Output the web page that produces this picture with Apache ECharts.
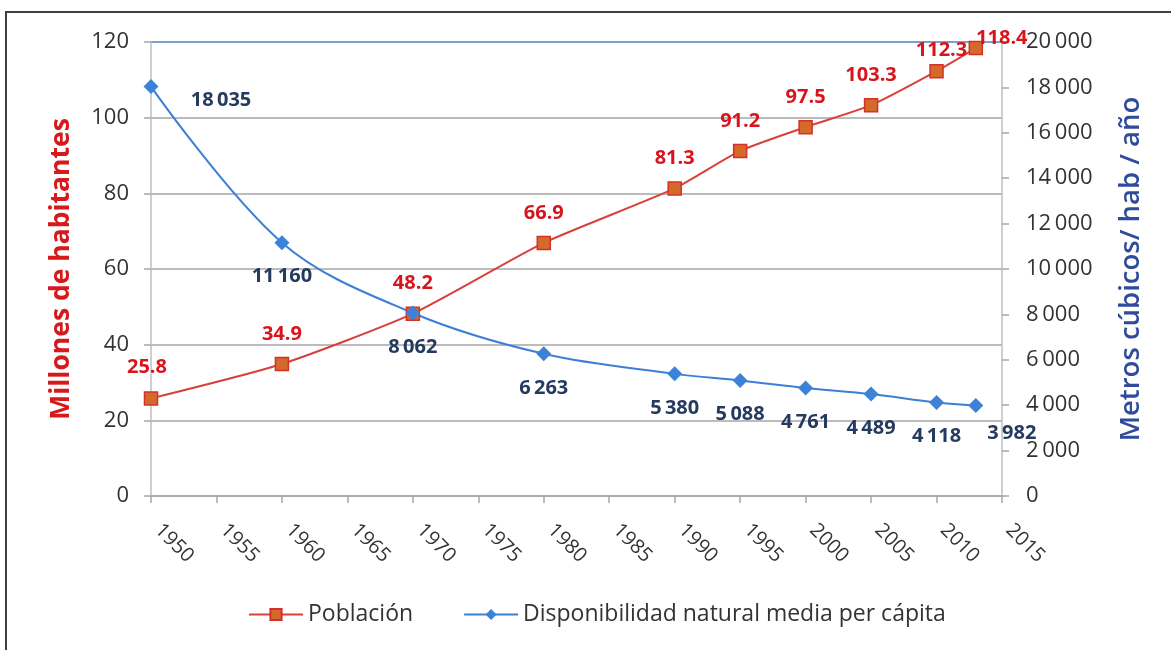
<!DOCTYPE html>
<html>
<head>
<meta charset="utf-8">
<script src="https://cdn.jsdelivr.net/npm/echarts@6/dist/echarts.min.js"></script>
<style>
  html, body { margin: 0; padding: 0; background: #fff; }
  #chart { width: 1171px; height: 650px; }
</style>
</head>
<body>
<div id="chart"></div>
<script>
// Población (millones) y disponibilidad natural media de agua per cápita
const years = [1950, 1960, 1970, 1980, 1990, 1995, 2000, 2005, 2010, 2013];
const poblacion = [25.8, 34.9, 48.2, 66.9, 81.3, 91.2, 97.5, 103.3, 112.3, 118.4];
const disponibilidad = [18035, 11160, 8062, 6263, 5380, 5088, 4761, 4489, 4118, 3982];
const leftTicks = [0, 20, 40, 60, 80, 100, 120];
const rightTicks = [0, 2000, 4000, 6000, 8000, 10000, 12000, 14000, 16000, 18000, 20000];

const FONT = '"Open Sans", Lato, sans-serif';
const sep = (v) => String(v).replace(/\B(?=(\d{3})+(?!\d))/g, '\u2009');

// label offsets for points that Excel moved around
const popOffsets = { 0: [-4, -31], 8: [5, -21], 9: [26, -10] };
const dispOffsets = { 0: [70, 14], 9: [36, 28] };

const popData = years.map((y, i) => {
  const d = { value: [y, poblacion[i]] };
  if (popOffsets[i]) d.label = { offset: popOffsets[i] };
  return d;
});
const dispData = years.map((y, i) => {
  const d = { value: [y, disponibilidad[i]] };
  if (dispOffsets[i]) d.label = { offset: dispOffsets[i] };
  return d;
});

const chart = echarts.init(document.getElementById('chart'));
const option = {
  animation: false,
  backgroundColor: '#fff',
  graphic: [{
    type: 'rect',
    shape: { x: 6, y: 12, width: 1200, height: 700 },
    style: { fill: 'none', stroke: '#3f3f3f', lineWidth: 2 },
    silent: true
  }],
  grid: { left: 151, right: 169, top: 42, bottom: 154 },
  legend: {
    bottom: 19,
    left: 243,
    itemWidth: 54,
    itemHeight: 14,
    itemGap: 50,
    textStyle: { fontFamily: FONT, fontSize: 23, color: '#333' },
    data: ['Población', 'Disponibilidad natural media per cápita']
  },
  xAxis: {
    type: 'value',
    min: 1950,
    max: 2015,
    interval: 5,
    axisLine: { show: true, lineStyle: { color: '#a6a6a6', width: 1.5 } },
    axisTick: { show: true, length: 7, lineStyle: { color: '#a6a6a6', width: 1.5 } },
    axisLabel: {
      rotate: -45,
      margin: 24,
      padding: [0, 0, 0, 10],
      fontFamily: FONT, fontSize: 20, color: '#333',
      formatter: (v) => String(v)
    },
    splitLine: { show: false }
  },
  yAxis: [{
    type: 'value',
    min: leftTicks[0],
    max: leftTicks[leftTicks.length - 1],
    interval: 20,
    name: 'Millones de habitantes',
    nameLocation: 'middle',
    nameGap: 76,
    nameTextStyle: { fontFamily: FONT, fontSize: 26.5, fontWeight: 'bold', color: '#d7191c' },
    axisLine: { show: true, lineStyle: { color: '#bfbfbf', width: 1.5 } },
    axisTick: { show: true, length: 7, lineStyle: { color: '#a6a6a6', width: 1.5 } },
    axisLabel: { margin: 22, fontFamily: FONT, fontSize: 22, color: '#333' },
    splitLine: {
      show: true,
      lineStyle: {
        color: ['#a6a6a6', '#a6a6a6', '#a6a6a6', '#a6a6a6', '#a6a6a6', '#a6a6a6', '#4f81bd'],
        width: 1.5
      }
    }
  }, {
    type: 'value',
    min: rightTicks[0],
    max: rightTicks[rightTicks.length - 1],
    interval: 2000,
    position: 'right',
    name: 'Metros cúbicos/ hab / año',
    nameLocation: 'middle',
    nameGap: 115,
    nameRotate: 90,
    nameTextStyle: { fontFamily: FONT, fontSize: 27.5, fontWeight: 600, color: '#2f4b9b' },
    axisLine: { show: true, lineStyle: { color: '#bfbfbf', width: 1.5 } },
    axisTick: { show: true, length: 7, lineStyle: { color: '#a6a6a6', width: 1.5 } },
    axisLabel: {
      margin: 24, fontFamily: FONT, fontSize: 22, color: '#333',
      formatter: (v) => sep(v)
    },
    splitLine: { show: false }
  }],
  series: [{
    name: 'Población',
    type: 'line',
    yAxisIndex: 0,
    smooth: 0.2,
    symbol: 'rect',
    symbolSize: 13,
    lineStyle: { color: '#d9403a', width: 2 },
    itemStyle: { color: '#d4692c', borderColor: '#d6302a', borderWidth: 1.5 },
    label: {
      show: true,
      position: 'inside',
      offset: [0, -30],
      fontFamily: FONT, fontSize: 20, fontWeight: 'bold', color: '#d8141c',
      formatter: (p) => p.value[1].toFixed(1)
    },
    data: popData
  }, {
    name: 'Disponibilidad natural media per cápita',
    type: 'line',
    yAxisIndex: 1,
    smooth: 0.35,
    symbol: 'diamond',
    symbolSize: 15,
    lineStyle: { color: '#3d7fd6', width: 2 },
    itemStyle: { color: '#3b82d8' },
    label: {
      show: true,
      position: 'inside',
      offset: [0, 34],
      fontFamily: FONT, fontSize: 20, fontWeight: 'bold', color: '#243a5e',
      formatter: (p) => sep(p.value[1])
    },
    data: dispData
  }]
};
chart.setOption(option);
window.onresize = () => chart.resize();
</script>
</body>
</html>
